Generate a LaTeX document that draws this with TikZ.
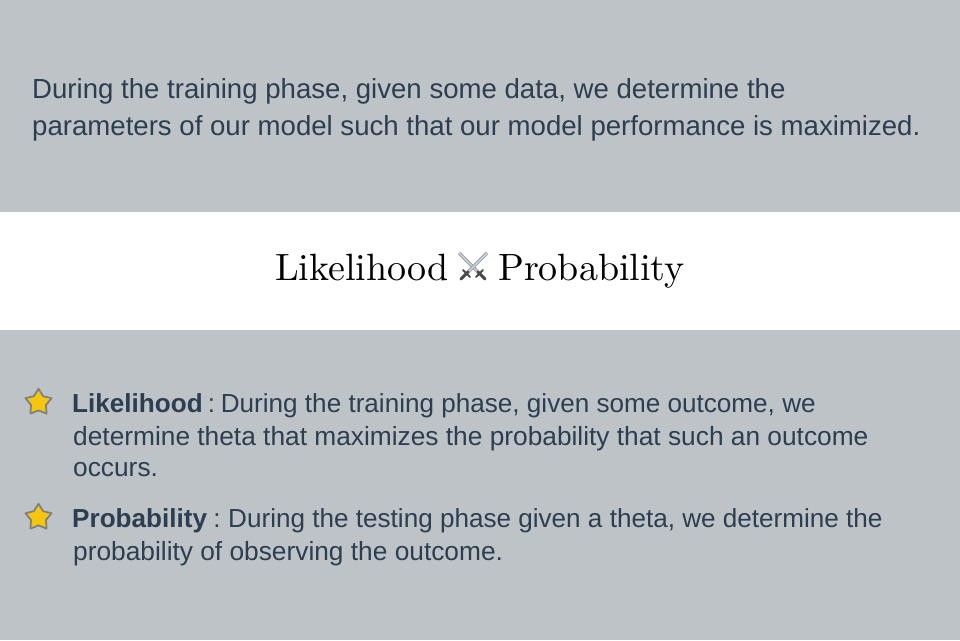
\documentclass[tikz,border=0pt]{standalone}
\usepackage{fontspec}
\setmainfont{Liberation Sans}
\newfontfamily\titlefont{lmroman10-regular.otf}
\usetikzlibrary{shapes.geometric}
\definecolor{panelgray}{HTML}{BDC3C7}
\definecolor{inkblue}{HTML}{2C3E50}
\definecolor{stargold}{HTML}{F5C60F}
\definecolor{bladeblue}{HTML}{BFDCEB}
\definecolor{bladeedge}{HTML}{A89A9E}
\definecolor{hiltgray}{HTML}{4A4A4A}
\tikzset{
	bodytext/.style={anchor=base west, inner sep=0pt, text=inkblue, font=\fontsize{27.6}{30}\selectfont},
	listtext/.style={anchor=base west, inner sep=0pt, text=inkblue, font=\fontsize{26.3}{28}\selectfont},
	leadtext/.style={listtext, font=\fontsize{26.1}{28}\selectfont},
	titletext/.style={anchor=base west, inner sep=0pt, text=black, font=\titlefont\fontsize{38}{42}\selectfont},
	starmark/.style={star, star points=5, star point ratio=1.75, minimum size=27.5pt, inner sep=0pt, fill=stargold, draw=gray, line width=1.8pt, line join=round},
	bladeout/.style={line width=3.4pt, draw=bladeedge},
	bladein/.style={line width=1.4pt, draw=bladeblue},
	hilt/.style={line width=2pt, draw=hiltgray, line cap=round}
}
\begin{document}
\begin{tikzpicture}[x=1pt, y=-1pt]
	\useasboundingbox (0, 0) rectangle (960, 640);
	\fill[panelgray] (0, 0) rectangle (960, 640);
	\fill[white] (0, 212) rectangle (960, 330);

	\path (32, 98)    node[bodytext] (top1)  {During the training phase, given some data, we determine the}
	      (32, 135)   node[bodytext] (top2)  {parameters of our model such that our model performance is maximized.};

	\path (275, 280)  node[titletext] (like) {Likelihood}
	      (498, 280)  node[titletext] (prob) {Probability};

	% crossed swords
	\draw[bladeout] (459, 253) -- (478, 272);
	\draw[bladein]  (459, 253) -- (478, 272);
	\draw[bladeout] (487, 253) -- (468, 272);
	\draw[bladein]  (487, 253) -- (468, 272);
	\draw[hilt] (463, 270) -- (470, 277);
	\draw[hilt] (483, 270) -- (476, 277);
	\draw[hilt, line width=3pt] (468, 272) -- (461, 279);
	\draw[hilt, line width=3pt] (478, 272) -- (485, 279);

	\path (38.5, 402.5) node[starmark] (star1) {}
	      (38.5, 517.5) node[starmark] (star2) {};

	\path (72, 412)   node[leadtext] (like1) {\textbf{Likelihood}\hspace{-2pt} :\hspace{-4pt} During the training phase, given some outcome, we}
	      (73, 445)   node[listtext] (like2) {determine theta that maximizes the probability that such an outcome}
	      (73, 476)   node[listtext] (like3) {occurs.}
	      (72, 527)   node[leadtext] (prob1) {\textbf{Probability}\hspace{-1pt} :\hspace{-2pt} During the testing phase given a theta, we determine the}
	      (73, 560)   node[listtext] (prob2) {probability of observing the outcome.};
\end{tikzpicture}
\end{document}
